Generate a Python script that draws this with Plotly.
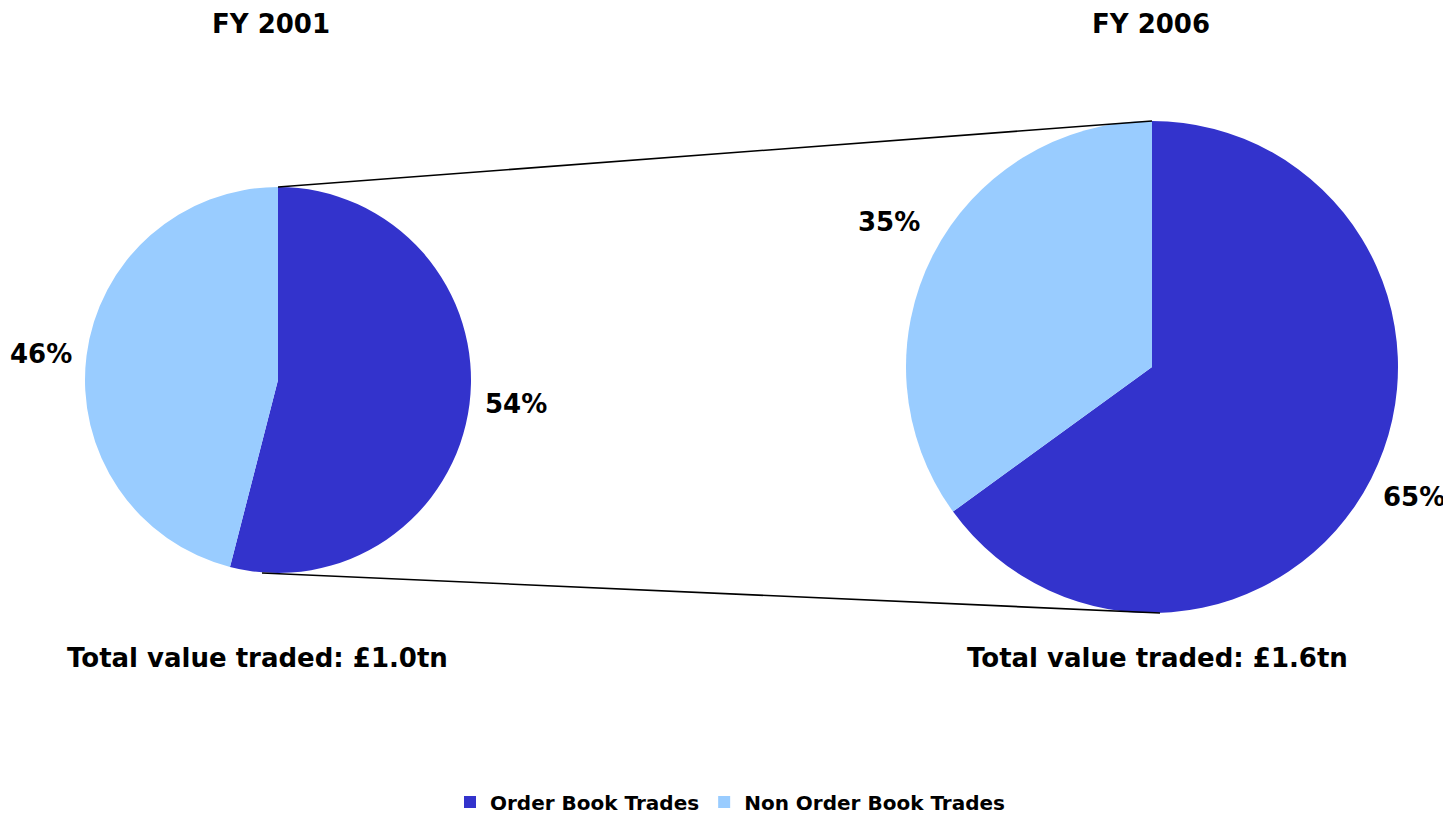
import plotly.graph_objects as go

W, H = 1451, 816
OFF = 8  # default page body margin in the browser

labels = ["Order Book Trades", "Non Order Book Trades"]
colors = ["#3333CC", "#99CCFF"]
years = ["FY 2001", "FY 2006"]
values_2001 = [54, 46]
values_2006 = [65, 35]
totals = ["Total value traded: £1.0tn", "Total value traded: £1.6tn"]

FONT = "DejaVu Sans"

# pie geometry in page pixels (center x, center y from top, radius)
pies = [
    dict(cx=278, cy=380, r=193, vals=values_2001),
    dict(cx=1152, cy=367, r=246, vals=values_2006),
]

def px(x, y):
    return (x - OFF) / W, (H - (y - OFF)) / H

fig = go.Figure()
for i, p in enumerate(pies):
    x0, y0 = px(p["cx"] - p["r"], p["cy"] + p["r"])
    x1, y1 = px(p["cx"] + p["r"], p["cy"] - p["r"])
    fig.add_trace(go.Pie(
        labels=labels, values=p["vals"], sort=False, direction="clockwise",
        rotation=0, marker=dict(colors=colors, line=dict(width=0)),
        textinfo="none", hoverinfo="label+percent",
        domain=dict(x=[x0, x1], y=[y0, y1]), showlegend=(i == 0),
    ))

annotations = []
def ann(text, x, y, size):
    ax, ay = px(x, y)
    annotations.append(dict(text=text, x=ax, y=ay, xref="paper", yref="paper",
                            showarrow=False, xanchor="center", yanchor="middle",
                            font=dict(family=FONT, size=size, color="black", weight="bold")))

ann(years[0], 271, 24, 26)
ann(years[1], 1151, 24, 26)
ann(totals[0], 257, 658, 26)
ann(totals[1], 1157, 658, 26)
ann(f"{values_2001[0]}%", 516, 404, 26)
ann(f"{values_2001[1]}%", 41, 354, 26)
ann(f"{values_2006[1]}%", 889, 222, 26)
ann(f"{values_2006[0]}%", 1414, 497, 26)

# connecting lines between the pies (top and bottom)
a, b = pies
shapes = []
for (xa, ya, xb, yb) in [
    (a["cx"], a["cy"] - a["r"], b["cx"], b["cy"] - b["r"]),
    (a["cx"] - 16, a["cy"] + a["r"], b["cx"] + 8, b["cy"] + b["r"]),
]:
    x0, y0 = px(xa, ya)
    x1, y1 = px(xb, yb)
    shapes.append(dict(type="line", xref="paper", yref="paper", x0=x0, y0=y0,
                       x1=x1, y1=y1, line=dict(color="black", width=1.6)))

lx, ly = px(730, 802)
fig.update_layout(
    width=W, height=H, margin=dict(l=0, r=0, t=0, b=0),
    paper_bgcolor="white", plot_bgcolor="white",
    annotations=annotations, shapes=shapes,
    legend=dict(orientation="h", x=lx, xanchor="center", y=ly, yanchor="middle",
                font=dict(family=FONT, size=20, color="black", weight="bold"),
                itemwidth=30, traceorder="normal"),
)
fig.write_html("out.html")
